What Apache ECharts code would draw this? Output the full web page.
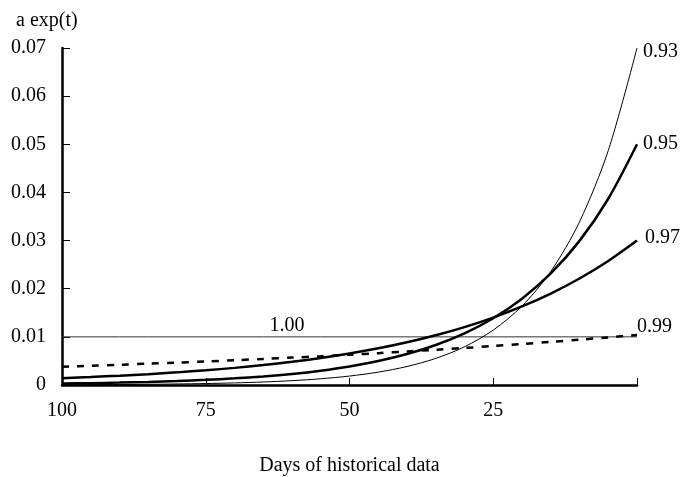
<!DOCTYPE html>
<html>
<head>
<meta charset="utf-8">
<script src="https://cdn.jsdelivr.net/npm/echarts@6/dist/echarts.min.js"></script>
<style>html,body{margin:0;padding:0;background:#fff}#c{width:682px;height:477px}</style>
</head>
<body>
<div id="c"></div>
<script>
var days = [0,5,10,15,20,25,30,35,40,45,50,55,60,65,70,75,80,85,90,95,100];
var w093 = [0.07,0.048698,0.033879,0.023569,0.016397,0.011407,0.007936,0.005521,0.003841,0.002672,0.001859,0.001293,0.0009,0.000626,0.000435,0.000303,0.000211,0.000147,0.000102,0.000071,0.000049];
var w095 = [0.05,0.038689,0.029937,0.023165,0.017924,0.01387,0.010732,0.008304,0.006426,0.004972,0.003847,0.002977,0.002303,0.001782,0.001379,0.001067,0.000826,0.000639,0.000494,0.000383,0.000296];
var w097 = [0.03,0.025762,0.022123,0.018998,0.016314,0.01401,0.01203,0.010331,0.008872,0.007618,0.006542,0.005618,0.004824,0.004143,0.003557,0.003055,0.002623,0.002253,0.001934,0.001661,0.001426];
var w099 = [0.0104,0.00989,0.00941,0.00895,0.00851,0.00809,0.00769,0.00732,0.00696,0.00662,0.00629,0.00598,0.00569,0.00541,0.00515,0.00489,0.00465,0.00443,0.00421,0.004,0.00381];
var w100 = [0.01,0.01,0.01,0.01,0.01,0.01,0.01,0.01,0.01,0.01,0.01,0.01,0.01,0.01,0.01,0.01,0.01,0.01,0.01,0.01,0.01];
var seriesNames = ['0.93','0.95','0.97','0.99','1.00'];
var yTicks = ['0','0.01','0.02','0.03','0.04','0.05','0.06','0.07'];
var xTicks = ['100','75','50','25'];

// ordered from 100 days back to day 0 so the line ends at the right edge
function pairs(arr){ return days.map(function(d,i){ return [d, arr[i]]; }).reverse(); }
var FONT = 'Liberation Serif';
var chart = echarts.init(document.getElementById('c'));
function mk(name, arr, width, type, off){
  return {
    name: name, type: 'line', data: pairs(arr), smooth: 0.3, symbol: 'none',
    lineStyle: {color: '#000', width: width, type: type},
    endLabel: {show: true, formatter: name, color: '#000', fontFamily: FONT, fontSize: 20,
      align: 'left', verticalAlign: 'middle', distance: 0, offset: off},
    z: 3
  };
}
var flatData = pairs(w100).map(function(p){
  if (p[0] === 60) return {value: p, label: {show: true, formatter: '1.00', position: 'top', color: '#000', fontFamily: FONT, fontSize: 20, distance: 1, offset: [-5, 0]}};
  return p;
});
chart.setOption({
  animation: false,
  backgroundColor: '#fff',
  textStyle: {fontFamily: FONT},
  grid: {left: 62, right: 45, top: 48, bottom: 92, containLabel: false, outerBoundsMode: 'none'},
  title: {text: 'a exp(t)', left: 11, top: 6, textStyle: {fontFamily: FONT, fontSize: 20, fontWeight: 'normal', color: '#000'}},
  xAxis: {
    type: 'value', min: 0, max: 100, interval: 25, inverse: true,
    name: 'Days of historical data', nameLocation: 'middle', nameGap: 71,
    nameTextStyle: {fontFamily: FONT, fontSize: 20, color: '#000'},
    axisLine: {show: true, onZero: false, lineStyle: {color: '#000', width: 2.5}},
    axisTick: {show: true, inside: true, length: 7, lineStyle: {color: '#000', width: 1}},
    axisLabel: {color: '#000', fontFamily: FONT, fontSize: 20, margin: 16,
      formatter: function(v){ var i = xTicks.indexOf(String(v)); return i >= 0 ? xTicks[i] : ''; }},
    splitLine: {show: false}
  },
  yAxis: {
    type: 'value', min: 0, max: 0.07, interval: 0.01, position: 'left',
    axisLine: {show: true, onZero: false, lineStyle: {color: '#000', width: 2.5}},
    axisTick: {show: true, inside: true, length: 8, lineStyle: {color: '#000', width: 1}},
    axisLabel: {color: '#000', fontFamily: FONT, fontSize: 20, margin: 16,
      formatter: function(v){ return yTicks[Math.round(v * 100)]; }},
    splitLine: {show: false}
  },
  series: [
    mk(seriesNames[0], w093, 1, 'solid', [6, 4]),
    mk(seriesNames[1], w095, 2.5, 'solid', [6, -1]),
    mk(seriesNames[2], w097, 2.5, 'solid', [8, -3]),
    mk(seriesNames[3], w099, 2.5, [7, 8], [0, -8]),
    {name: seriesNames[4], type: 'line', data: flatData, symbol: 'circle', symbolSize: 1, showSymbol: true, showAllSymbol: true,
     itemStyle: {color: 'rgba(0,0,0,0)'},
     lineStyle: {color: '#333', width: 1}, z: 2}
  ]
});
</script>
</body>
</html>
